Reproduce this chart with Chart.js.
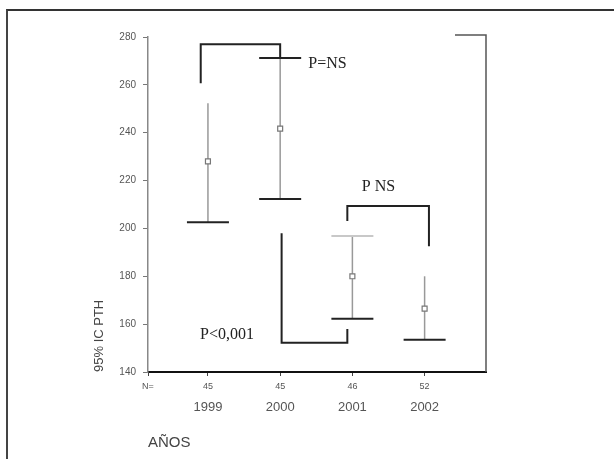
<!DOCTYPE html>
<html>
<head>
<meta charset="utf-8">
<script src="https://cdn.jsdelivr.net/npm/chart.js@4.4.1/dist/chart.umd.min.js"></script>
<style>
  body { margin: 0; background: #fff; }
  #wrap { position: relative; width: 614px; height: 459px; }
  #frame {
    position: absolute; left: 6px; top: 9px; right: 0; bottom: 0;
    border-left: 2px solid #444; border-top: 2px solid #333;
    pointer-events: none;
  }
</style>
</head>
<body>
<div id="wrap">
  <canvas id="chart" width="614" height="459"></canvas>
  <div id="frame"></div>
</div>
<script>
// Data
const years = ['1999', '2000', '2001', '2002'];
const nLabels = ['45', '45', '46', '52'];
const meanPth = [228, 241.7, 180, 166.5];
const lowerCi = [202.6, 212.3, 162.3, 153.5];
const upperCi = [252.3, 271.2, 196.8, 180];

// Significance brackets, in axis units [category position, PTH]
const bracketA = [[0.9, 260.7], [0.9, 277], [2.0, 277], [2.0, 271.2]];
const bracketB = [[2.93, 203.1], [2.93, 209.4], [4.06, 209.4], [4.06, 192.6]];
const bracketC = [[2.02, 198], [2.02, 152.2], [2.93, 152.2], [2.93, 158]];
const pTexts = ['P=NS', 'P NS', 'P<0,001'];
const pTextPos = [[2.39, 269], [3.13, 217.4], [0.89, 155.6]];

const X_MIN = 0.17;
const X_MAX = 4.85;

const toPoints = (arr) => arr.map(([x, y]) => ({ x, y }));

function bracketDataset(arr) {
  return {
    type: 'line',
    data: toPoints(arr),
    showLine: true,
    borderColor: '#222',
    borderWidth: 2,
    pointRadius: 0,
    fill: false,
  };
}

// top cap look per year (scan is uneven)
const topCapColor = [null, '#222', '#c8c8c8', null];

const errorBars = {
  id: 'errorBars',
  beforeDatasetsDraw(chart) {
    const { ctx } = chart;
    const xs = chart.scales.x;
    const ys = chart.scales.y;
    const half = 21;
    ctx.save();
    meanPth.forEach((_, i) => {
      const px = xs.getPixelForValue(i + 1);
      const yLo = ys.getPixelForValue(lowerCi[i]);
      const yHi = ys.getPixelForValue(upperCi[i]);
      ctx.strokeStyle = '#999';
      ctx.lineWidth = 1.5;
      ctx.beginPath();
      ctx.moveTo(px, yHi);
      ctx.lineTo(px, yLo);
      ctx.stroke();

      ctx.strokeStyle = '#222';
      ctx.lineWidth = 2;
      ctx.beginPath();
      ctx.moveTo(px - half, yLo);
      ctx.lineTo(px + half, yLo);
      ctx.stroke();

      if (topCapColor[i]) {
        ctx.strokeStyle = topCapColor[i];
        ctx.beginPath();
        ctx.moveTo(px - half, yHi);
        ctx.lineTo(px + half, yHi);
        ctx.stroke();
      }
    });
    ctx.restore();
  },
  afterDatasetsDraw(chart) {
    const { ctx, chartArea } = chart;
    const xs = chart.scales.x;
    const ys = chart.scales.y;
    ctx.save();
    // scanned frame on the right
    ctx.strokeStyle = '#555';
    ctx.lineWidth = 1.5;
    ctx.beginPath();
    ctx.moveTo(chartArea.right - 31, chartArea.top - 2);
    ctx.lineTo(chartArea.right, chartArea.top - 2);
    ctx.lineTo(chartArea.right, chartArea.bottom);
    ctx.stroke();

    ctx.fillStyle = '#222';
    ctx.font = '16px "Liberation Serif", "DejaVu Serif", serif';
    ctx.textAlign = 'left';
    ctx.textBaseline = 'middle';
    pTexts.forEach((t, i) => {
      ctx.fillText(t, xs.getPixelForValue(pTextPos[i][0]), ys.getPixelForValue(pTextPos[i][1]));
    });
    ctx.restore();
  },
};

const sans = '"Liberation Sans", Arial, sans-serif';

new Chart(document.getElementById('chart'), {
  type: 'scatter',
  data: {
    datasets: [
      {
        data: meanPth.map((v, i) => ({ x: i + 1, y: v })),
        pointStyle: 'rect',
        pointRadius: 3.5,
        borderColor: '#777',
        borderWidth: 1.2,
        backgroundColor: '#fff',
      },
      bracketDataset(bracketA),
      bracketDataset(bracketB),
      bracketDataset(bracketC),
    ],
  },
  options: {
    responsive: false,
    animation: false,
    layout: { padding: { left: 92, right: 128, top: 37, bottom: 5 } },
    plugins: { legend: { display: false }, tooltip: { enabled: false } },
    scales: {
      x: {
        type: 'linear',
        position: 'bottom',
        min: X_MIN,
        max: X_MAX,
        afterBuildTicks: (scale) => {
          scale.ticks = [X_MIN, 1, 2, 3, 4].map((v) => ({ value: v }));
        },
        afterFit: (scale) => { scale.height = 20; },
        ticks: {
          autoSkip: false,
          maxRotation: 0,
          padding: 5,
          color: '#555',
          font: { family: sans, size: 9 },
          callback: (v, i) => (i === 0 ? 'N=' : nLabels[i - 1]),
        },
        grid: { drawOnChartArea: false, tickLength: 4, color: '#444' },
        border: { color: '#111', width: 2 },
      },
      x2: {
        type: 'linear',
        position: 'bottom',
        min: X_MIN,
        max: X_MAX,
        afterBuildTicks: (scale) => {
          scale.ticks = [1, 2, 3, 4].map((v) => ({ value: v }));
        },
        afterFit: (scale) => { scale.height = 62; },
        ticks: {
          autoSkip: false,
          maxRotation: 0,
          padding: 0,
          color: '#555',
          font: { family: sans, size: 13 },
          callback: (v, i) => years[i],
        },
        grid: { display: false },
        border: { display: false },
        title: {
          display: true,
          text: 'AÑOS',
          align: 'start',
          color: '#444',
          font: { family: sans, size: 15 },
          padding: { top: 0, bottom: 2 },
        },
      },
      y: {
        min: 140,
        max: 280,
        afterFit: (scale) => { scale.width = 56; },
        ticks: {
          stepSize: 20,
          padding: 7,
          color: '#555',
          font: { family: sans, size: 10 },
        },
        grid: { drawOnChartArea: false, tickLength: 5, color: '#777' },
        border: { color: '#888', width: 1.5 },
        title: {
          display: true,
          text: '95% IC PTH',
          align: 'start',
          color: '#444',
          font: { family: sans, size: 13 },
          padding: 0,
        },
      },
    },
  },
  plugins: [errorBars],
});
</script>
</body>
</html>
